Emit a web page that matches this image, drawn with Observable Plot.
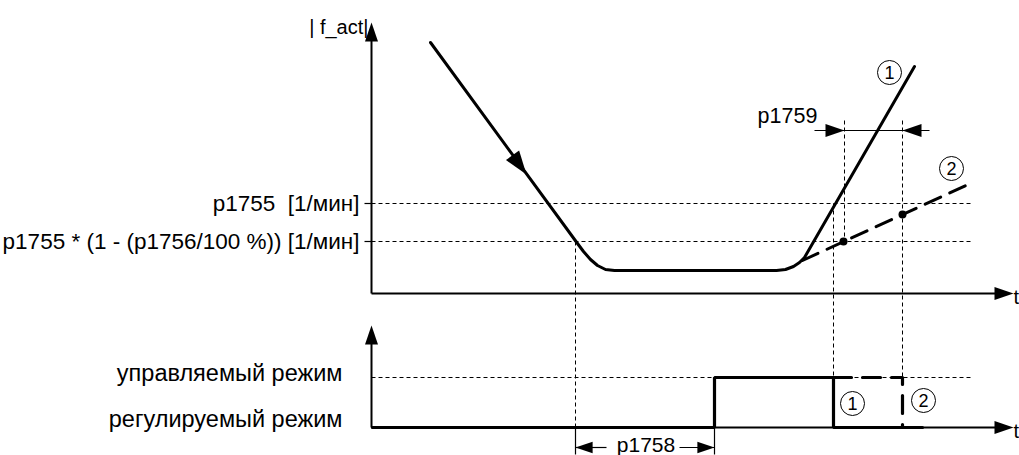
<!DOCTYPE html>
<html>
<head>
<meta charset="utf-8">
<script src="https://cdn.jsdelivr.net/npm/d3@7"></script>
<script src="https://cdn.jsdelivr.net/npm/@observablehq/plot@0.6"></script>
<style>
  html, body { margin: 0; padding: 0; background: #fff; }
  #chart svg { display: block; }
</style>
</head>
<body>
<div id="chart"></div>
<script>
// ---- Schematic data (drawing units: t along x, level along y, y grows downward) ----
// Speed curve |f_act|
const curveT = [430, 577, 583, 590, 597, 605, 614, 776, 785, 793, 799, 804, 914];
const curveV = [42, 243, 251, 259, 265, 269, 270, 270, 269, 266, 262, 257, 66];
// Case 2 (dashed) continuation
const case2T = [802, 972];
const case2V = [260, 182];
// Marked points on case 2 line
const markT = [843, 902];
const markV = [241, 214];
// Thresholds (upper diagram)
const thresholdLabels = ["p1755\u00a0\u00a0[1/мин]", "p1755 * (1 - (p1756/100 %)) [1/мин]"];
const thresholdV = [203, 241];
// Modes (lower diagram)
const modeLabels = ["управляемый режим", "регулируемый режим"];
const modeV = [377, 427];
const modeLabelV = [373, 419];
// Mode signal (thick step)
const stepT = [372, 714, 714, 833, 833, 922];
const stepV = [427, 427, 377, 377, 427, 427];
// Mode signal case 2 (thick dashed)
const step2T = [833, 902, 902];
const step2V = [377, 377, 427];
// Axes
const axisOrigin = 371, axisEnd = 997, upperTop = 40, upperBase = 293, lowerTop = 342, lowerBase = 427, lineEnd = 972;
// Time markers
const p1758 = [575, 714];
const p1759 = [844, 902];
const switchT = 833;

// ---- Tables built from the arrays ----
const curve = curveT.map((t, i) => ({t, v: curveV[i]}));
const case2 = case2T.map((t, i) => ({t, v: case2V[i]}));
const marks2 = markT.map((t, i) => ({t, v: markV[i]}));
const step = stepT.map((t, i) => ({t, v: stepV[i]}));
const step2 = step2T.map((t, i) => ({t, v: step2V[i]}));

const axes = [
  {t1: axisOrigin, v1: upperTop, t2: axisOrigin, v2: upperBase},
  {t1: axisOrigin, v1: upperBase, t2: axisEnd, v2: upperBase},
  {t1: axisOrigin, v1: lowerTop, t2: axisOrigin, v2: lowerBase},
  {t1: axisOrigin, v1: lowerBase, t2: axisEnd, v2: lowerBase}
];
const hDashed = [
  ...thresholdV.map(v => ({t1: axisOrigin, v1: v, t2: lineEnd, v2: v})),
  {t1: axisOrigin, v1: modeV[0], t2: lineEnd, v2: modeV[0]}
];
const ticks = thresholdV.map(v => ({t1: axisOrigin - 7, v1: v, t2: axisOrigin, v2: v}));
const vDashed = [
  {t1: p1758[0], v1: thresholdV[1], t2: p1758[0], v2: lowerBase},
  {t1: switchT, v1: thresholdV[0], t2: switchT, v2: modeV[0]},
  {t1: p1759[0], v1: 120, t2: p1759[0], v2: thresholdV[1]},
  {t1: p1759[1], v1: 120, t2: p1759[1], v2: modeV[0]}
];
const thinSolid = [
  {t1: p1758[0], v1: lowerBase, t2: p1758[0], v2: 454},
  {t1: p1758[1], v1: lowerBase, t2: p1758[1], v2: 454},
  {t1: p1758[0], v1: 447, t2: 606, v2: 447},
  {t1: 679, v1: 447, t2: p1758[1], v2: 447},
  {t1: 814, v1: 130, t2: 929, v2: 130}
];
const arrowsBig = [
  {t: axisOrigin, v: 22, rot: 0},
  {t: axisOrigin, v: 325, rot: 0},
  {t: 1013, v: upperBase, rot: 90},
  {t: 1013, v: lowerBase, rot: 90},
  {t: p1759[0], v: 130, rot: 90},
  {t: p1759[1], v: 130, rot: 270}
];
const arrowsSmall = [
  {t: p1758[0], v: 447, rot: 270},
  {t: p1758[1], v: 447, rot: 90}
];
const arrowsCurve = [
  {t: 526, v: 174, rot: 144}
];
const circled = [
  {t: 889, v: 72, label: "1"},
  {t: 951, v: 168, label: "2"},
  {t: 852, v: 403, label: "1"},
  {t: 923, v: 400, label: "2"}
];

// Filled arrowhead symbol, tip at origin pointing up
const makeArrow = k => ({
  draw(context) {
    context.moveTo(0, 0);
    context.lineTo(-6.5 * k, 19 * k);
    context.lineTo(6.5 * k, 19 * k);
    context.closePath();
  }
});

const font = "Liberation Sans, Arial, Helvetica, sans-serif";

const chart = Plot.plot({
  width: 1019,
  height: 455,
  margin: 0,
  style: {fontFamily: font, background: "#fff"},
  x: {domain: [0, 1019], range: [0, 1019], axis: null},
  y: {domain: [0, 455], range: [0, 455], axis: null},
  marks: [
    // thin dashed helper lines
    Plot.link(hDashed, {x1: "t1", y1: "v1", x2: "t2", y2: "v2", stroke: "#000", strokeWidth: 1, strokeDasharray: "4,3"}),
    Plot.link(vDashed, {x1: "t1", y1: "v1", x2: "t2", y2: "v2", stroke: "#000", strokeWidth: 1, strokeDasharray: "4,3"}),
    Plot.link(thinSolid, {x1: "t1", y1: "v1", x2: "t2", y2: "v2", stroke: "#000", strokeWidth: 1.2}),
    Plot.link(ticks, {x1: "t1", y1: "v1", x2: "t2", y2: "v2", stroke: "#000", strokeWidth: 1.2}),
    // axes
    Plot.link(axes, {x1: "t1", y1: "v1", x2: "t2", y2: "v2", stroke: "#000", strokeWidth: 2}),
    // speed curve
    Plot.line(curve, {x: "t", y: "v", stroke: "#000", strokeWidth: 3, strokeLinejoin: "round"}),
    Plot.line(case2, {x: "t", y: "v", stroke: "#000", strokeWidth: 3, strokeDasharray: "17,10"}),
    Plot.dot(marks2, {x: "t", y: "v", r: 4, fill: "#000"}),
    // mode signal
    Plot.line(step, {x: "t", y: "v", stroke: "#000", strokeWidth: 3.2, strokeLinejoin: "miter"}),
    Plot.line(step2, {x: "t", y: "v", stroke: "#000", strokeWidth: 3.2, strokeDasharray: "18,11"}),
    // arrowheads
    Plot.dot(arrowsBig, {x: "t", y: "v", r: 10, rotate: "rot", symbol: makeArrow(1), fill: "#000", stroke: "none"}),
    Plot.dot(arrowsSmall, {x: "t", y: "v", r: 10, rotate: "rot", symbol: makeArrow(0.9), fill: "#000", stroke: "none"}),
    Plot.dot(arrowsCurve, {x: "t", y: "v", r: 10, rotate: "rot", symbol: makeArrow(1.25), fill: "#000", stroke: "none"}),
    // circled numbers
    Plot.dot(circled, {x: "t", y: "v", r: 12, fill: "#fff", stroke: "#000", strokeWidth: 1}),
    Plot.text(circled, {x: "t", y: "v", text: "label", fontSize: 18, fill: "#000", dy: 1}),
    // labels
    Plot.text(thresholdLabels, {x: axisOrigin - 12, y: (d, i) => thresholdV[i], text: d => d, textAnchor: "end", fontSize: 22.5, fill: "#000"}),
    Plot.text(modeLabels, {x: axisOrigin - 29, y: (d, i) => modeLabelV[i], text: d => d, textAnchor: "end", fontSize: 23.5, fill: "#000"}),
    Plot.text(["| f_act|"], {x: 368, y: 27, text: d => d, textAnchor: "end", fontSize: 20, fill: "#000"}),
    Plot.text(["p1759"], {x: 787, y: 116, text: d => d, fontSize: 21.5, fill: "#000"}),
    Plot.text(["p1758"], {x: (p1758[0] + p1758[1]) / 2 + 1, y: 445, text: d => d, fontSize: 21, fill: "#000"}),
    Plot.text(["t", "t"], {x: 1013, y: (d, i) => i === 0 ? upperBase + 4 : lowerBase + 4, text: d => d, textAnchor: "start", fontSize: 20, fill: "#000"})
  ]
});

document.getElementById("chart").appendChild(chart);
</script>
</body>
</html>
